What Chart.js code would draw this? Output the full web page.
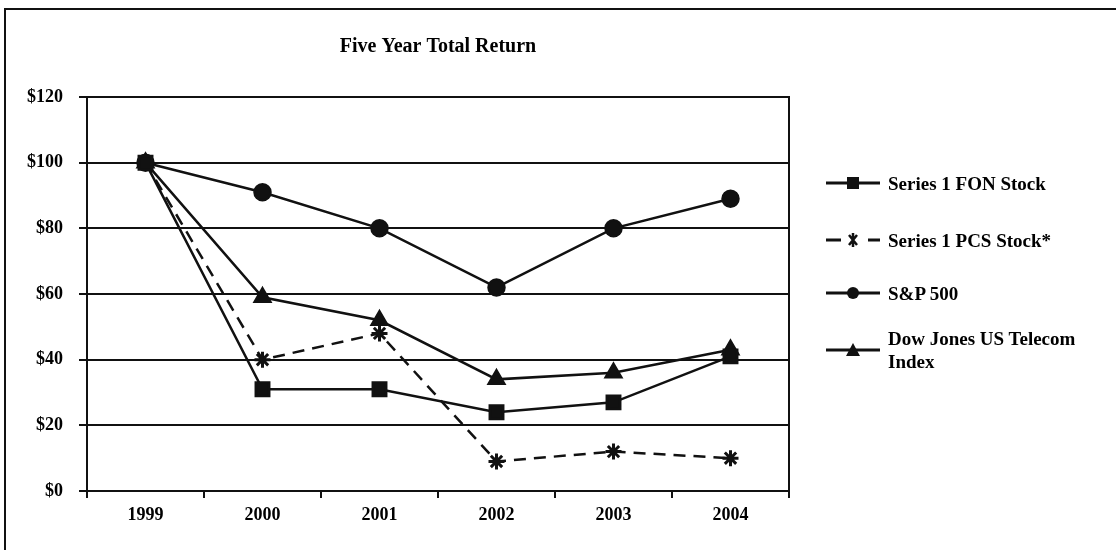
<!DOCTYPE html>
<html>
<head>
<meta charset="utf-8">
<script src="https://cdn.jsdelivr.net/npm/chart.js@4.4.1/dist/chart.umd.min.js"></script>
<style>
  body { margin: 0; background: #fff; }
  #frame { position: absolute; left: 0; top: 0; width: 1116px; height: 550px; }
  #frame:before { content: ''; position: absolute; left: 4px; top: 8px; right: 0; bottom: 0;
    border-top: 2px solid #111; border-left: 2px solid #111; }
  #wrap { position: absolute; left: 0; top: 0; width: 1116px; height: 550px; }
  #legend { position: absolute; left: 826px; top: 0; font: bold 19px "Liberation Serif", serif; color: #000; }
  .item { position: absolute; left: 0; white-space: nowrap; display: flex; align-items: center; height: 20px; }
  .item svg { flex: none; }
  .item span { margin-left: 8px; line-height: 23px; }
</style>
</head>
<body>
<div id="frame"></div>
<div id="wrap"><canvas id="myChart"></canvas></div>
<div id="legend"></div>
<script>
var years = ['1999', '2000', '2001', '2002', '2003', '2004'];
var fonStock = [100, 31, 31, 24, 27, 41];
var pcsStock = [100, 40, 48, 9, 12, 10];
var sp500 = [100, 91, 80, 62, 80, 89];
var dowTelecom = [100, 59, 52, 34, 36, 43];
var yTicks = [0, 20, 40, 60, 80, 100, 120];

var serif = 'Liberation Serif';
var ink = '#111';

// right hand border of the plot area
var frameBox = {
    id: 'frameBox',
    afterDatasetsDraw: function (chart) {
        var a = chart.chartArea, c = chart.ctx;
        c.save();
        c.strokeStyle = ink;
        c.lineWidth = 2;
        c.beginPath();
        c.moveTo(a.right, a.top - 1);
        c.lineTo(a.right, a.bottom);
        c.stroke();
        c.restore();
    }
};

var ctx = document.getElementById('myChart').getContext('2d');
var myChart = new Chart(ctx, {
    type: 'line',
    data: {
        labels: years,
        datasets: [{
            label: 'Series 1 FON Stock',
            data: fonStock,
            borderColor: ink,
            backgroundColor: ink,
            borderWidth: 2.5,
            pointStyle: 'rect',
            pointRadius: 9.5,
            tension: 0
        }, {
            label: 'Series 1 PCS Stock*',
            data: pcsStock,
            borderColor: ink,
            backgroundColor: ink,
            borderWidth: 2.5,
            borderDash: [12, 8],
            pointStyle: 'star',
            pointRadius: 8,
            pointBorderWidth: 3,
            tension: 0
        }, {
            label: 'S&P 500',
            data: sp500,
            borderColor: ink,
            backgroundColor: ink,
            borderWidth: 2.5,
            pointStyle: 'circle',
            pointRadius: 8,
            tension: 0
        }, {
            label: 'Dow Jones US Telecom Index',
            data: dowTelecom,
            borderColor: ink,
            backgroundColor: ink,
            borderWidth: 2.5,
            pointStyle: 'triangle',
            pointRadius: 9,
            tension: 0
        }]
    },
    options: {
        responsive: true,
        maintainAspectRatio: false,
        animation: false,
        layout: { padding: { left: 0, right: 327, top: 0, bottom: 0 } },
        plugins: {
            legend: { display: false },
            tooltip: { enabled: false },
            title: {
                display: true,
                fullSize: false,
                text: 'Five Year Total Return',
                color: '#000',
                font: { family: serif, size: 20, weight: 'bold' },
                padding: { top: 35, bottom: 38 }
            }
        },
        scales: {
            x: {
                offset: true,
                grid: { offset: true, drawOnChartArea: false, color: ink, lineWidth: 2, tickLength: 7 },
                border: { color: ink, width: 2 },
                ticks: { color: '#000', padding: 7, font: { family: serif, size: 18, weight: 'bold' } },
                afterFit: function (s) { s.height = 59; }
            },
            y: {
                min: 0,
                max: 120,
                afterBuildTicks: function (s) { s.ticks = yTicks.map(function (v) { return { value: v }; }); },
                grid: { color: ink, lineWidth: 2, tickLength: 8 },
                border: { color: ink, width: 2 },
                ticks: {
                    color: '#000',
                    padding: 16,
                    font: { family: serif, size: 18, weight: 'bold' },
                    callback: function (v) { return '$' + v; }
                },
                afterFit: function (s) { s.width = 87; }
            }
        }
    },
    plugins: [frameBox]
});

// legend drawn as html, each sample a small svg of line and marker
var markers = {
    rect: '<rect x="21" y="4" width="12" height="12" fill="#111"/>',
    star: '<path d="M23 5 L31 15 M31 5 L23 15 M27 3 L27 17" stroke="#111" stroke-width="2.5"/>',
    circle: '<circle cx="27" cy="10" r="6" fill="#111"/>',
    triangle: '<path d="M27 3 L34 16 L20 16 Z" fill="#111"/>'
};
var legendRows = [
    { text: 'Series 1 FON Stock', marker: 'rect', dash: false, mid: 183 },
    { text: 'Series 1 PCS Stock*', marker: 'star', dash: true, mid: 240 },
    { text: 'S&amp;P 500', marker: 'circle', dash: false, mid: 293 },
    { text: 'Dow Jones US Telecom<br>Index', marker: 'triangle', dash: false, mid: 350 }
];
var legend = document.getElementById('legend');
legendRows.forEach(function (r) {
    var line = r.dash
        ? '<path d="M0 10 H15 M42 10 H54" stroke="#111" stroke-width="3"/>'
        : '<path d="M0 10 H54" stroke="#111" stroke-width="3"/>';
    var div = document.createElement('div');
    div.className = 'item';
    div.style.top = (r.mid - 10) + 'px';
    div.innerHTML = '<svg width="54" height="20">' + line + markers[r.marker] + '</svg><span>' + r.text + '</span>';
    legend.appendChild(div);
});
</script>
</body>
</html>
